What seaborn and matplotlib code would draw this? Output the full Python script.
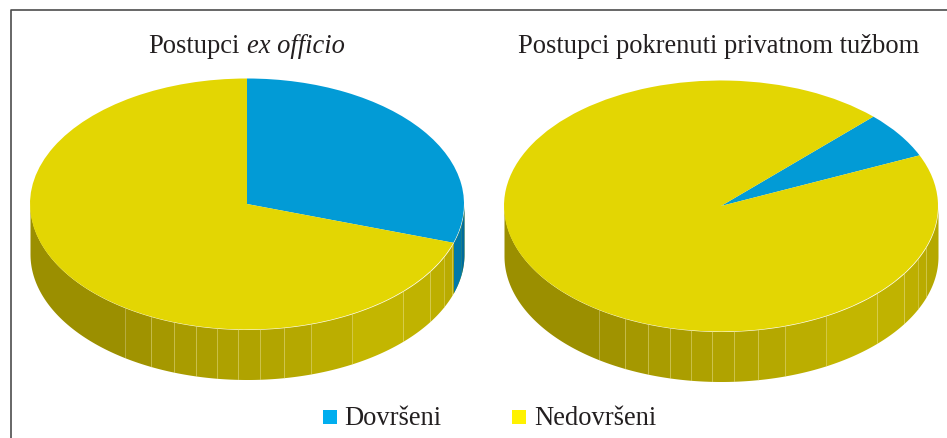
import numpy as np
import matplotlib.pyplot as plt
import seaborn as sns
from matplotlib.patches import Rectangle

sns.set_theme(style="white")
plt.rcParams['font.family'] = ['Liberation Serif', 'DejaVu Sans']

labels = ["Dovršeni", "Nedovršeni"]
share_ex_officio = [30, 70]
share_privatna = [6, 94]

colors = sns.color_palette(["#029bd6", "#e3d603"])
legend_colors = ["#00aeef", "#fff200"]
text_color = "#231f20"

W, H = 947, 439
RX, RY, DEPTH = 217, 125.5, 50

# side wall facets, degrees going round the front from the left edge
facet_edges = [0, 55.8, 63.7, 70.3, 76.4, 82, 87.6, 93.4, 99.8, 107.2, 119, 136, 147.5, 155, 161, 180]
facet_colors = ["#9b8f00", "#a09300", "#a59800", "#a99c00", "#ab9e00", "#aea100", "#b0a300", "#b2a500",
                "#b5a800", "#bbae00", "#c3b600", "#c0b300", "#bdaf00", "#b9ab00", "#b5a800"]
blue_wall = ["#0079a9", "#006b9b"]


def wall(ax, a, b, color, d):
    t = np.radians(np.linspace(180 + a, 180 + b, 60))
    ax.fill_between(np.cos(t), np.sin(t), np.sin(t) - d, color=color, lw=0, zorder=1)


def draw_pie(cx, cy, shares, start):
    # axes box in pixels, the unit circle gets squashed into the ellipse
    ax = fig.add_axes([(cx - RX) / W, 1 - (cy + RY) / H, 2 * RX / W, 2 * RY / H])
    ax.pie(shares, colors=colors, startangle=start, counterclock=False, radius=1,
           wedgeprops={"linewidth": 0, "zorder": 3})
    ax.set_aspect("auto")
    ax.set_xlim(-1, 1)
    ax.set_ylim(-1, 1)
    d = DEPTH / RY
    for i, c in enumerate(facet_colors):
        wall(ax, facet_edges[i], facet_edges[i + 1], c, d)
    for e in facet_edges[2:-1]:
        x = np.cos(np.radians(180 + e))
        y = np.sin(np.radians(180 + e))
        ax.plot([x, x], [y, y - d], color="#e6dc6e", lw=0.5, alpha=0.4, zorder=2, clip_on=False)
    # blue part of the wall, only where the slice reaches the front
    end = start - shares[0] * 3.6
    if end < 0:
        a = 180 + end
        mid = (a + 180) / 2
        wall(ax, a, mid, blue_wall[0], d)
        wall(ax, mid, 180, blue_wall[1], d)
    for c in ax.collections:
        c.set_clip_on(False)
    ax.axis("off")
    return ax


fig = plt.figure(figsize=(W / 100, H / 100), dpi=100)

draw_pie(247, 205, share_ex_officio, 90)
draw_pie(721, 207, share_privatna, 45.4)

# frame
fig.add_artist(plt.Line2D([10.5 / W, 10.5 / W, 1], [0, 1 - 11 / H, 1 - 11 / H], color="#4d4d4d", lw=1.2))

FS = 19.1
fig.text(148 / W, 1 - 53 / H, "Postupci", fontsize=FS, color=text_color, va="baseline")
fig.text(247 / W, 1 - 53 / H, "ex officio", fontsize=FS, style="italic", color=text_color, va="baseline")
fig.text(518 / W, 1 - 53 / H, "Postupci pokrenuti privatnom tužbom", fontsize=FS, color=text_color, va="baseline")

# legend
for x, lab, c, tx in zip([323, 512], labels, legend_colors, [344, 534]):
    fig.add_artist(Rectangle((x / W, 1 - 425 / H), 14 / W, 14 / H, color=c, lw=0, transform=fig.transFigure))
    fig.text(tx / W, 1 - 425 / H, lab, fontsize=FS, color=text_color, va="baseline")

fig.savefig("out.png", dpi=100)
